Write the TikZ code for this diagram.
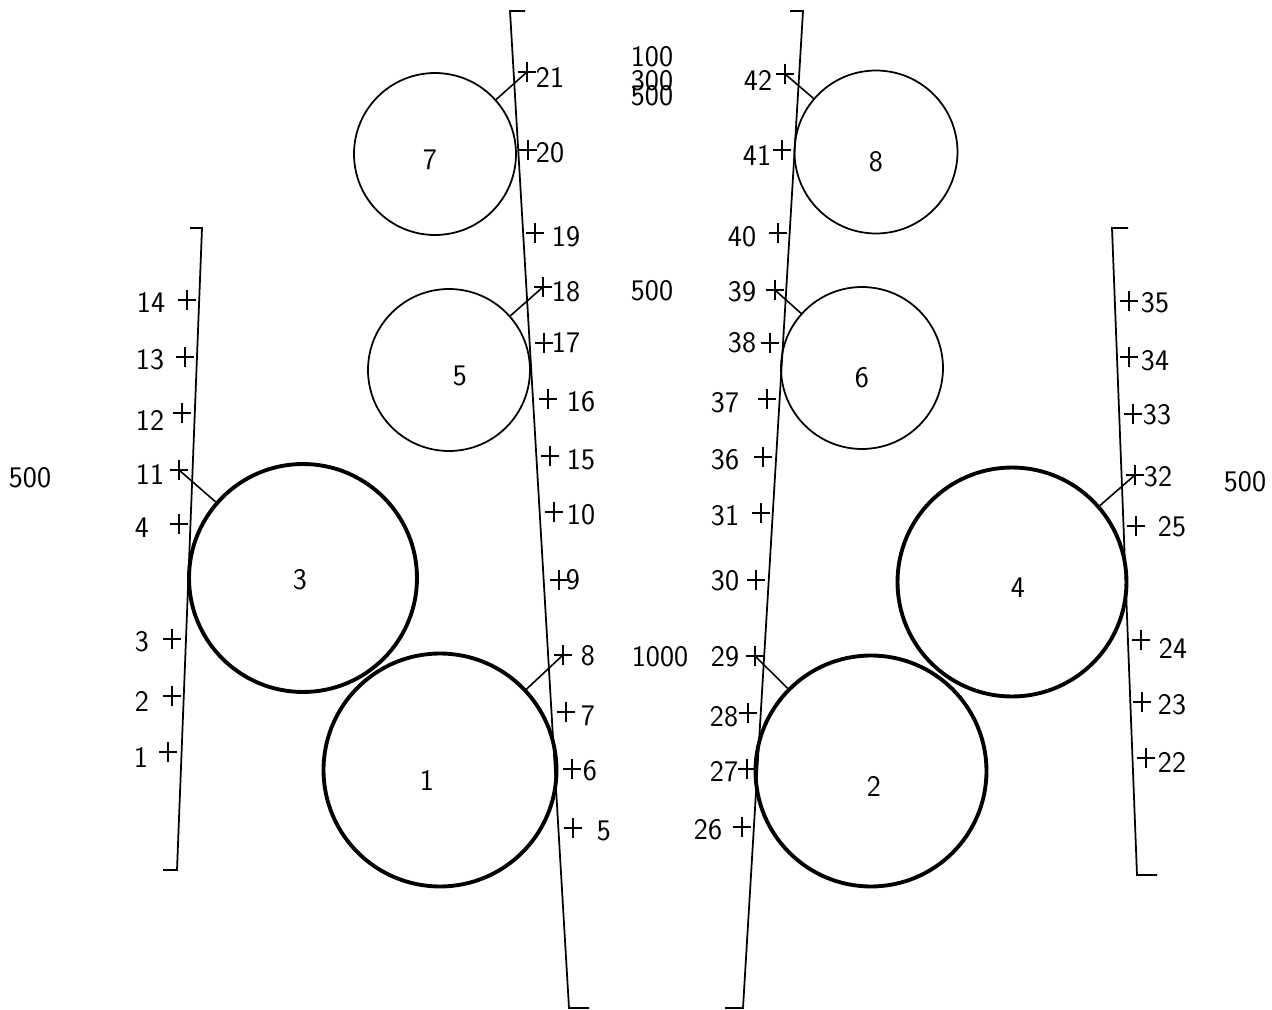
\documentclass[tikz,border=0pt]{standalone}
\usepackage{fontspec}
\begin{document}
\begin{tikzpicture}[x=0.02cm, y=-0.02cm,
        roll/.style={circle, draw, line width=1pt, inner sep=0pt},
        bigroll/.style={roll, line width=2.2pt},
        num/.style={font=\sffamily\fontsize{17}{17}\selectfont, inner sep=0pt},
        rail/.style={line width=1pt}]
    \useasboundingbox (0,0) rectangle (1272,1010);

    % Rails
    \draw[rail] (525,11) -- (510,11) -- (569,1008) -- (589,1008);
    \draw[rail] (790,11) -- (803,11) -- (743,1008) -- (725,1008);
    \draw[rail] (190,228) -- (202,228) -- (177,870) -- (163,870);
    \draw[rail] (1128,228) -- (1112,228) -- (1137,875) -- (1157,875);

    % Rolls
    \node[roll, minimum size=3.24cm] (c7) at (435,154) {};
    \node[roll, minimum size=3.26cm] (c8) at (876,152) {};
    \node[roll, minimum size=3.24cm] (c5) at (449,370) {};
    \node[roll, minimum size=3.24cm] (c6) at (862,368) {};
    \node[bigroll, minimum size=4.56cm] (c3) at (303,578) {};
    \node[bigroll, minimum size=4.58cm] (c4) at (1012,582) {};
    \node[bigroll, minimum size=4.66cm] (c1) at (440,770) {};
    \node[bigroll, minimum size=4.62cm] (c2) at (871,771) {};

    % Roll numbers
    \node[num] (n7) at (430,160) {7};
    \node[num] (n8) at (876,162) {8};
    \node[num] (n5) at (460,376) {5};
    \node[num] (n6) at (862,378) {6};
    \node[num] (n3) at (300,580) {3};
    \node[num] (n4) at (1018,588) {4};
    \node[num] (n1) at (427,780) {1};
    \node[num] (n2) at (874,786) {2};

    % Measuring points: number / cross / label
    \foreach \n/\x/\y/\lx/\ly in {
        21/527/72/550/77, 20/528/150/550/153, 19/535/233/566/237,
        18/543/287/566/292, 17/544/343/566/343, 16/548/399/581/402,
        15/550/456/581/460, 10/554/512/581/515, 9/559/580/573/580,
        8/563/655/588/656, 7/566/712/588/716, 6/572/769/590/771,
        5/573/828/604/831,
        42/785/74/758/80, 41/782/150/757/155, 40/778/233/742/237,
        39/775/290/742/292, 38/770/343/742/343, 37/767/399/725/403,
        36/763/457/725/460, 31/761/513/725/516, 30/756/580/725/581,
        29/755/656/725/657, 28/748/713/724/717, 27/747/769/724/772,
        26/742/827/708/830,
        14/187/300/151/302, 13/185/357/150/360, 12/182/413/150/420,
        11/179/470/150/474, 4/179/524/142/528, 3/172/639/142/642,
        2/172/696/142/701, 1/168/752/141/757,
        35/1129/301/1155/303, 34/1129/357/1155/361, 33/1133/414/1157/415,
        32/1135/475/1158/477, 25/1136/526/1172/527, 24/1141/640/1173/648,
        23/1142/702/1172/705, 22/1146/758/1172/762} {
        \coordinate (t\n) at (\x,\y);
        \draw[line width=0.9pt] (\x-9,\y) -- (\x+9,\y) (\x,\y-10) -- (\x,\y+10);
        \node[num] (l\n) at (\lx,\ly) {\n};
    }

    % Leaders from rolls to points
    \draw[line width=0.9pt] (t21) -- (c7);
    \draw[line width=0.9pt] (t42) -- (c8);
    \draw[line width=0.9pt] (t18) -- (c5);
    \draw[line width=0.9pt] (t39) -- (c6);
    \draw[line width=0.9pt] (t11) -- (c3);
    \draw[line width=0.9pt] (t32) -- (c4);
    \draw[line width=0.9pt] (t8) -- (c1);
    \draw[line width=0.9pt] (t29) -- (c2);

    % Loads
    \node[num] (w100) at (652,57) {100};
    \node[num] (w300) at (652,81) {300};
    \node[num] (w500a) at (652,96) {500};
    \node[num] (w500b) at (652,291) {500};
    \node[num] (w1000) at (660,657) {1000};
    \node[num] (w500c) at (30,478) {500};
    \node[num] (w500d) at (1245,482) {500};
\end{tikzpicture}
\end{document}
